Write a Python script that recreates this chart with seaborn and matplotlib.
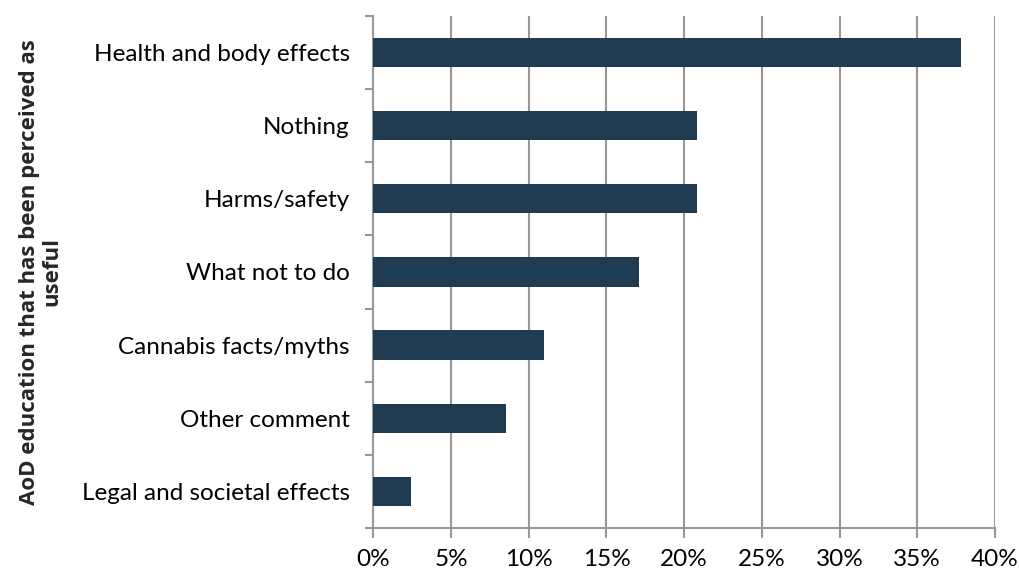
import matplotlib
matplotlib.use("Agg")
import matplotlib.pyplot as plt
import seaborn as sns
import pandas as pd
import numpy as np
from matplotlib.ticker import FixedLocator, PercentFormatter

categories = [
    "Health and body effects",
    "Nothing",
    "Harms/safety",
    "What not to do",
    "Cannabis facts/myths",
    "Other comment",
    "Legal and societal effects",
]
percent_values = [37.8, 20.8, 20.8, 17.1, 11.0, 8.55, 2.45]
x_ticks = [0, 5, 10, 15, 20, 25, 30, 35, 40]
y_title = "AoD education that has been perceived as\nuseful"

sns.set_theme(style="white")
plt.rcParams["font.family"] = ["Lato", "DejaVu Sans"]

df = pd.DataFrame({"category": categories, "pct": percent_values})

fig = plt.figure(figsize=(10.2, 5.72), dpi=100)
ax = fig.add_axes([0.366, 0.077, 0.6095, 0.895])

grid_col = "#989898"
bar_col = "#203C52"

sns.barplot(data=df, x="pct", y="category", orient="h", color=bar_col,
            width=0.4, saturation=1, ax=ax, zorder=3, edgecolor=bar_col,
            linewidth=0)

ax.set_xlim(0, 40)
ax.set_ylim(len(categories) - 0.5, -0.5)
ax.xaxis.set_major_locator(FixedLocator(x_ticks))
ax.xaxis.set_major_formatter(PercentFormatter(decimals=0))
ax.grid(axis="x", color=grid_col, linewidth=1.5, zorder=0)
ax.grid(axis="y", visible=False)

# category boundary ticks on the y axis
ax.yaxis.set_minor_locator(FixedLocator(np.arange(-0.5, len(categories), 1.0)))
ax.tick_params(axis="y", which="major", length=0, pad=17, labelsize=17.5,
               labelcolor="black")
ax.tick_params(axis="y", which="minor", length=6, width=1.5, color=grid_col,
               left=True, direction="out")
ax.tick_params(axis="x", which="major", length=7, width=1.5, color=grid_col,
               bottom=True, direction="out", labelsize=17.5, pad=8,
               labelcolor="black")

for side in ["top", "right"]:
    ax.spines[side].set_visible(False)
for side in ["left", "bottom"]:
    ax.spines[side].set_color(grid_col)
    ax.spines[side].set_linewidth(1.5)

ax.set_xlabel("")
ax.set_ylabel(y_title, fontsize=16, fontweight="bold", labelpad=14,
              linespacing=1.05, family=["Open Sans", "DejaVu Sans"])

fig.savefig("out.png", dpi=100, facecolor="white")
